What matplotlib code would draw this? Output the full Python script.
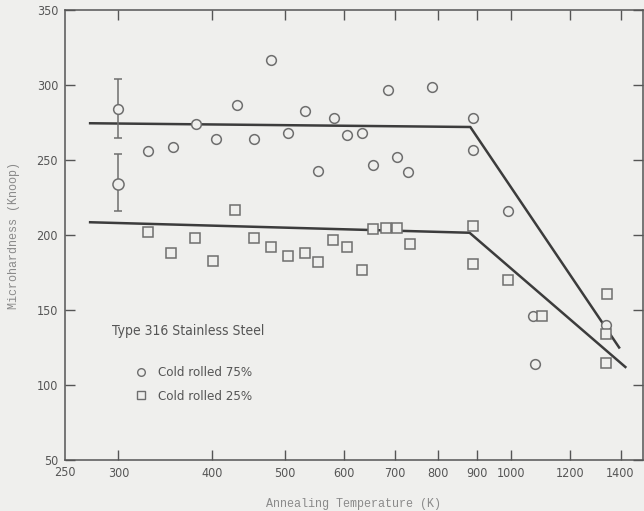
import matplotlib
matplotlib.use("Agg")
import matplotlib.pyplot as plt
from matplotlib.lines import Line2D
from matplotlib.font_manager import FontProperties

# Knoop microhardness of Type 316 stainless steel vs annealing temperature
temp_75 = [328, 355, 380, 405, 431, 455, 479, 505, 532, 554, 582, 605, 634,
           655, 685, 705, 729, 786, 891, 891, 990, 1070, 1076, 1338]
hard_75 = [256, 259, 274, 264, 287, 264, 317, 268, 283, 243, 278, 267, 268,
           247, 297, 252, 242, 299, 278, 257, 216, 146, 114, 140]

temp_25 = [328, 353, 379, 401, 429, 455, 479, 505, 532, 554, 580, 604, 634,
           655, 682, 705, 733, 891, 891, 990, 1100, 1345, 1340, 1340]
hard_25 = [202, 188, 198, 183, 217, 198, 192, 186, 188, 182, 197, 192, 177,
           204, 205, 205, 194, 206, 181, 170, 146, 161, 134, 115]

# as-rolled reference points with scatter bands
ref_temp = 300
ref_75, ref_75_lo, ref_75_hi = 284, 265, 304
ref_25, ref_25_lo, ref_25_hi = 234, 216, 254

# fitted trend lines (plateau, then recovery drop)
fit_75_t = [275, 883, 1394]
fit_75_h = [274.5, 272, 125]
fit_25_t = [275, 881, 1421]
fit_25_h = [208.5, 201.5, 112]

xticks = [300, 400, 500, 600, 700, 800, 900, 1000, 1200, 1400]
xtick_labels = ["300", "400", "500", "600", "700", "800", "900", "1000", "1200", "1400"]
yticks = [50, 100, 150, 200, 250, 300, 350]

bg = "#efefed"
ink = "#3c3c3c"
txt = "#555555"
mk = "#6e6e6e"
mono = ["Liberation Mono", "DejaVu Sans Mono"]


def narrow(size):
    return FontProperties(family="DejaVu Sans", stretch="condensed", size=size)


fig = plt.figure(figsize=(6.44, 5.11), dpi=100, facecolor=bg)
ax = fig.add_axes([65 / 644, 1 - 460 / 511, 578 / 644, 450 / 511])
ax.set_facecolor(bg)
ax.set_xscale("log")
ax.set_xlim(254.6, 1500)
ax.set_ylim(50, 350)

ax.plot(fit_75_t, fit_75_h, color=ink, lw=1.8, zorder=2)
ax.plot(fit_25_t, fit_25_h, color=ink, lw=1.8, zorder=2)

ax.plot(temp_75, hard_75, ls="none", marker="o", ms=7, mfc=bg, mec=mk, mew=1.1, zorder=3)
ax.plot(temp_25, hard_25, ls="none", marker="s", ms=6.5, mfc=bg, mec=mk, mew=1.1, zorder=3)

ax.errorbar([ref_temp], [ref_75], yerr=[[ref_75 - ref_75_lo], [ref_75_hi - ref_75]],
            fmt="o", ms=7, mfc=bg, mec=mk, mew=1.1, ecolor=mk, elinewidth=1.1,
            capsize=3, capthick=1.1, zorder=3)
ax.errorbar([ref_temp], [ref_25], yerr=[[ref_25 - ref_25_lo], [ref_25_hi - ref_25]],
            fmt="o", ms=8, mfc=bg, mec=mk, mew=1.1, ecolor=mk, elinewidth=1.1,
            capsize=3, capthick=1.1, zorder=3)

ax.xaxis.set_minor_locator(matplotlib.ticker.NullLocator())
ax.set_xticks(xticks)
ax.set_xticklabels(xtick_labels)
ax.set_yticks(yticks)
ax.tick_params(which="both", direction="in", length=7, width=1, color="#555555",
               top=True, right=True, labelsize=9, labelcolor=txt, pad=5)
for lab in ax.get_xticklabels() + ax.get_yticklabels():
    lab.set_fontproperties(narrow(9))
ax.text(0, -0.014, "250", transform=ax.transAxes, ha="center", va="top",
        color=txt, fontproperties=narrow(9))

for side in ["left", "bottom", "top", "right"]:
    ax.spines[side].set_color("#555555")
    ax.spines[side].set_linewidth(1.1)

ax.set_xlabel("Annealing Temperature (K)", fontsize=8.5, color="#8a8a8a",
              family=mono, labelpad=13)
ax.set_ylabel("Microhardness (Knoop)", fontsize=8.5, color="#8a8a8a",
              family=mono, labelpad=12)

ax.text(294, 136, "Type 316 Stainless Steel", color=txt,
        fontproperties=narrow(10), ha="left", va="center")

handles = [
    Line2D([], [], ls="none", marker="o", ms=5.5, mfc=bg, mec=mk, mew=1),
    Line2D([], [], ls="none", marker="s", ms=5.5, mfc=bg, mec=mk, mew=1),
]
leg = ax.legend(handles, ["Cold rolled 75%", "Cold rolled 25%"],
                loc="upper left", bbox_to_anchor=(0.1, 0.235), frameon=False,
                handlelength=1.0, handletextpad=0.8, labelspacing=0.8,
                prop=narrow(9.5))
for t in leg.get_texts():
    t.set_color(txt)

fig.savefig("out.png", dpi=100, facecolor=bg)
